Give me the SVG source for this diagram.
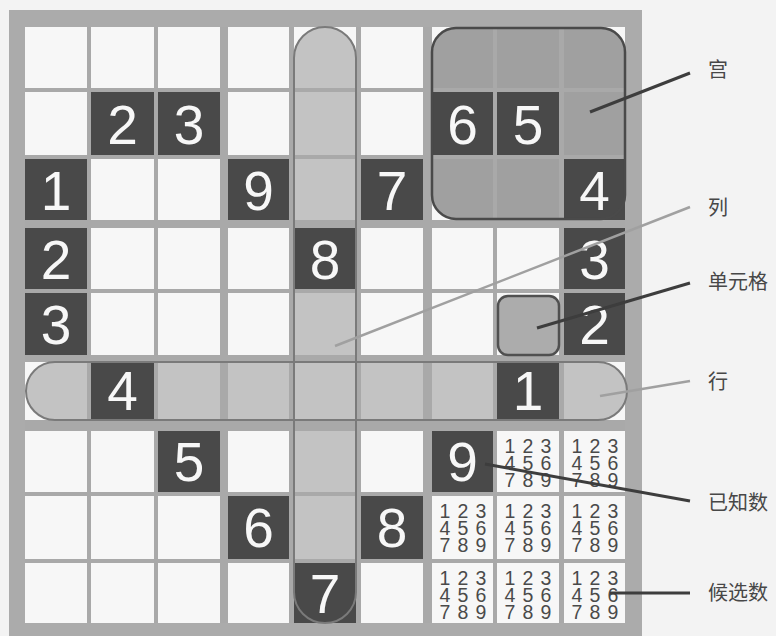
<svg xmlns="http://www.w3.org/2000/svg" width="776" height="636" viewBox="0 0 776 636">
<style>
.dk{fill:#494949}
.num{font-family:"Liberation Sans",Arial,sans-serif;font-size:55px;fill:#f7f7f7;text-anchor:middle}
.cand{font-family:"Liberation Sans",Arial,sans-serif;font-size:19.5px;fill:#4a4a4a;text-anchor:middle}
.lbl{font-family:"Liberation Sans","Noto Sans CJK SC",sans-serif;font-size:20px;fill:#474747}
.gap{fill:#a9a9a9}
.pill{fill:#c3c3c3}
.pill-o{fill:none;stroke:#7a7a7a;stroke-width:2}
.lead-d{stroke:#3d3d3d;stroke-width:3;fill:none}
.lead-l{stroke:#a0a0a0;stroke-width:2.5;fill:none}
</style>
<rect x="0" y="0" width="776" height="636" fill="#f3f3f3"/>
<g id="frame">
<rect x="9" y="10" width="633" height="630" fill="#ababab"/>
<rect x="25" y="27" width="600" height="596" fill="#f7f7f7"/>
</g>
<g id="highlight-fills">
<rect id="col-fill" class="pill" x="294" y="27" width="62" height="596" rx="31"/>
<rect id="row-fill" class="pill" x="26" y="362" width="601" height="58" rx="29"/>
<rect id="box-fill" x="432" y="28" width="193" height="191" rx="24" fill="#a0a0a0"/>
<rect id="cell-fill" x="498" y="296" width="61" height="59" rx="10" fill="#acacac"/>
</g>
<g id="grid-lines">
<rect class="gap" x="87" y="27" width="4" height="596"/>
<rect class="gap" x="154" y="27" width="4" height="596"/>
<rect class="gap" x="220" y="27" width="8" height="596"/>
<rect class="gap" x="289" y="27" width="5" height="596"/>
<rect class="gap" x="356" y="27" width="5" height="596"/>
<rect class="gap" x="423" y="27" width="9" height="596"/>
<rect class="gap" x="493" y="27" width="4" height="596"/>
<rect class="gap" x="559" y="27" width="5" height="596"/>
<rect class="gap" x="25" y="88" width="600" height="4"/>
<rect class="gap" x="25" y="155" width="600" height="4"/>
<rect class="gap" x="25" y="220" width="600" height="8"/>
<rect class="gap" x="25" y="289" width="600" height="4"/>
<rect class="gap" x="25" y="355" width="600" height="7"/>
<rect class="gap" x="25" y="420" width="600" height="11"/>
<rect class="gap" x="25" y="492" width="600" height="4"/>
<rect class="gap" x="25" y="559" width="600" height="4"/>
</g>
<g id="known-cells">
<g id="k-r1c1"><rect class="dk" x="91" y="92" width="63" height="63"/><text class="num" x="122.5" y="144">2</text></g>
<g id="k-r1c2"><rect class="dk" x="158" y="92" width="62" height="63"/><text class="num" x="189" y="144">3</text></g>
<g id="k-r1c6"><rect class="dk" x="432" y="92" width="61" height="63"/><text class="num" x="462.5" y="144">6</text></g>
<g id="k-r1c7"><rect class="dk" x="497" y="92" width="62" height="63"/><text class="num" x="528" y="144">5</text></g>
<g id="k-r2c0"><rect class="dk" x="25" y="159" width="62" height="61"/><text class="num" x="56" y="210">1</text></g>
<g id="k-r2c3"><rect class="dk" x="228" y="159" width="61" height="61"/><text class="num" x="258.5" y="210">9</text></g>
<g id="k-r2c5"><rect class="dk" x="361" y="159" width="62" height="61"/><text class="num" x="392" y="210">7</text></g>
<g id="k-r2c8"><rect class="dk" x="564" y="159" width="61" height="61"/><text class="num" x="594.5" y="210">4</text></g>
<g id="k-r3c0"><rect class="dk" x="25" y="228" width="62" height="61"/><text class="num" x="56" y="279">2</text></g>
<g id="k-r3c4"><rect class="dk" x="294" y="228" width="62" height="61"/><text class="num" x="325" y="279">8</text></g>
<g id="k-r3c8"><rect class="dk" x="564" y="228" width="61" height="61"/><text class="num" x="594.5" y="279">3</text></g>
<g id="k-r4c0"><rect class="dk" x="25" y="293" width="62" height="62"/><text class="num" x="56" y="344">3</text></g>
<g id="k-r4c8"><rect class="dk" x="564" y="293" width="61" height="62"/><text class="num" x="594.5" y="344">2</text></g>
<g id="k-r5c1"><rect class="dk" x="91" y="363" width="63" height="56"/><text class="num" x="122.5" y="410">4</text></g>
<g id="k-r5c7"><rect class="dk" x="497" y="363" width="62" height="56"/><text class="num" x="528" y="410">1</text></g>
<g id="k-r6c2"><rect class="dk" x="158" y="431" width="62" height="61"/><text class="num" x="189" y="481">5</text></g>
<g id="k-r6c6"><rect class="dk" x="432" y="431" width="61" height="61"/><text class="num" x="462.5" y="481">9</text></g>
<g id="k-r7c3"><rect class="dk" x="228" y="496" width="61" height="63"/><text class="num" x="258.5" y="547">6</text></g>
<g id="k-r7c5"><rect class="dk" x="361" y="496" width="62" height="63"/><text class="num" x="392" y="547">8</text></g>
<g id="k-r8c4"><rect class="dk" x="294" y="563" width="62" height="60"/><text class="num" x="325" y="613">7</text></g>
</g>
<g id="highlight-outlines">
<rect id="col-outline" class="pill-o" x="294" y="27" width="62" height="596" rx="31"/>
<rect id="row-outline" class="pill-o" x="26" y="362" width="601" height="58" rx="29"/>
<rect id="box-outline" x="432" y="28" width="193" height="191" rx="24" fill="none" stroke="#4a4a4a" stroke-width="2.5"/>
<rect id="cell-outline" x="498" y="296" width="61" height="59" rx="10" fill="none" stroke="#505050" stroke-width="2.5"/>
</g>
<g id="candidates" class="cand">
<g id="c-r6c7"><text x="510 528 546" y="453">123</text><text x="510 528 546" y="470">456</text><text x="510 528 546" y="487">789</text></g>
<g id="c-r6c8"><text x="577 595 613" y="453">123</text><text x="577 595 613" y="470">456</text><text x="577 595 613" y="487">789</text></g>
<g id="c-r7c6"><text x="445 463 481" y="518">123</text><text x="445 463 481" y="535">456</text><text x="445 463 481" y="552">789</text></g>
<g id="c-r7c7"><text x="510 528 546" y="518">123</text><text x="510 528 546" y="535">456</text><text x="510 528 546" y="552">789</text></g>
<g id="c-r7c8"><text x="577 595 613" y="518">123</text><text x="577 595 613" y="535">456</text><text x="577 595 613" y="552">789</text></g>
<g id="c-r8c6"><text x="445 463 481" y="585">123</text><text x="445 463 481" y="602">456</text><text x="445 463 481" y="619">789</text></g>
<g id="c-r8c7"><text x="510 528 546" y="585">123</text><text x="510 528 546" y="602">456</text><text x="510 528 546" y="619">789</text></g>
<g id="c-r8c8"><text x="577 595 613" y="585">123</text><text x="577 595 613" y="602">456</text><text x="577 595 613" y="619">789</text></g>
</g>
<g id="connectors">
<line class="lead-d" x1="590" y1="112" x2="690" y2="73"/>
<line class="lead-l" x1="335" y1="346" x2="690" y2="207"/>
<line class="lead-d" x1="537" y1="328" x2="690" y2="283"/>
<line class="lead-l" x1="600" y1="396" x2="690" y2="381"/>
<line class="lead-d" x1="485" y1="464" x2="690" y2="501"/>
<line class="lead-d" x1="610" y1="593" x2="690" y2="593"/>
</g>
<g id="label-gong"><text class="lbl" x="708" y="77">宫</text></g>
<g id="label-lie"><text class="lbl" x="708" y="215">列</text></g>
<g id="label-cell"><text class="lbl" x="708" y="289">单元格</text></g>
<g id="label-hang"><text class="lbl" x="708" y="389">行</text></g>
<g id="label-known"><text class="lbl" x="708" y="510">已知数</text></g>
<g id="label-cand"><text class="lbl" x="708" y="600">候选数</text></g>
</svg>
